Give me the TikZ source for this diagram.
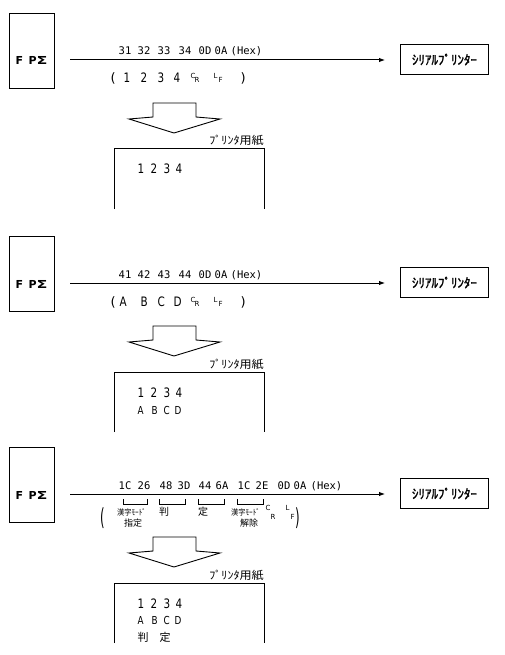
\documentclass[tikz,border=0pt]{standalone}
\usepackage{fontspec}
\usepackage{graphicx}
\usetikzlibrary{arrows.meta}
\setmainfont{DejaVu Sans}
\newfontfamily\jp{Noto Sans CJK JP}
\newfontfamily\jpb{Noto Sans CJK JP}[FakeBold=1.5]
\newfontfamily\mono{DejaVu Sans Mono}
\newcommand\tk[2]{\rlap{\hspace*{#1pt}#2}}
\newcommand\fs[1]{\fontsize{#1}{#1}\selectfont}
\newcommand\nd[1]{\scalebox{0.8}[1]{#1}}
\newcommand\panelbase{%
  \node[box, minimum width=45pt, minimum height=75pt] (fp) at (9,13) {};
  \node[txt] (fpt) at (15,65) {\bfseries\fs{11}\tk{0}{F}\tk{13}{P}\tk{21}{\scalebox{1.45}[1]{Σ}}};
  \node[box, minimum width=88pt, minimum height=30pt] (pr) at (400,44) {\jpb\fs{13}ｼﾘｱﾙﾌﾟﾘﾝﾀｰ};
  \coordinate (s) at (70,60);
  \draw[sig] (s) -- (s -| pr.west);
  \draw[blockarrow] (153,103) -- (196,103) -- (196,117) -- (220,119) -- (174,133) -- (129,119) -- (153,117) -- cycle;
  \node[txt, anchor=base east] (lab) at (264,145) {\jp\fs{11}\scalebox{1.1}[1]{ﾌﾟﾘﾝﾀ用紙}};
  \draw[paper] (114,209) -- (114,149) -- (264,149) -- (264,209);
  \node[txt] (n1234) at (137,174) {\fs{13}\tk{0}{\nd1}\tk{13}{\nd2}\tk{26}{\nd3}\tk{38}{\nd4}};
}
\begin{document}
\begin{tikzpicture}[x=1pt,y=-1pt,
  box/.style={draw, line width=1pt, inner sep=0pt, anchor=north west},
  txt/.style={inner sep=0pt, anchor=base west},
  sig/.style={line width=1pt, -{Latex[length=6pt,width=4.5pt]}, shorten >=15pt},
  blockarrow/.style={draw, line width=0.9pt, line join=miter},
  paper/.style={line width=1pt},
  brk/.style={line width=0.9pt},
  hexfont/.style={font=\mono\fs{10.5}},
  ]
\useasboundingbox (0,0) rectangle (504,655);

% ---------- panel 1
\begin{scope}[name prefix=a-]
\panelbase
\node[txt, hexfont] (hex) at (118,55) {\tk{0}{31}\tk{19}{32}\tk{39}{33}\tk{60}{34}\tk{80}{0D}\tk{96}{0A}\tk{112}{(Hex)}};
\node[txt] (dat) at (110,83) {\fs{13}\tk{0}{(}\tk{13}{\nd1}\tk{30}{\nd2}\tk{47}{\nd3}\tk{63}{\nd4}%
  \tk{80}{\raisebox{4pt}{\fs{7}C}}\tk{84}{\fs{7}R}\tk{103}{\raisebox{4pt}{\fs{7}L}}\tk{108}{\fs{7}F}\tk{130}{)}};
\end{scope}

% ---------- panel 2
\begin{scope}[yshift=-223pt, name prefix=b-]
\panelbase
\node[txt, hexfont] (hex) at (118,55) {\tk{0}{41}\tk{19}{42}\tk{39}{43}\tk{60}{44}\tk{80}{0D}\tk{96}{0A}\tk{112}{(Hex)}};
\node[txt] (dat) at (110,83) {\fs{13}\tk{0}{(}\tk{9}{\nd A}\tk{30}{\nd B}\tk{47}{\nd C}\tk{63}{\nd D}%
  \tk{80}{\raisebox{4pt}{\fs{7}C}}\tk{84}{\fs{7}R}\tk{103}{\raisebox{4pt}{\fs{7}L}}\tk{108}{\fs{7}F}\tk{130}{)}};
\node[txt] (abcd) at (137,191) {\fs{11}\tk{0}{\nd A}\tk{14}{\nd B}\tk{26}{\nd C}\tk{37}{\nd D}};
\end{scope}

% ---------- panel 3
\begin{scope}[yshift=-434pt, name prefix=c-]
\panelbase
\node[txt, hexfont] (hex) at (118,55) {\tk{0}{1C}\tk{19}{26}\tk{41}{48}\tk{59}{3D}\tk{80}{44}\tk{97}{6A}\tk{119}{1C}\tk{137}{2E}\tk{159}{0D}\tk{175}{0A}\tk{192}{(Hex)}};
\draw[brk] (123,65) |- (147,70) -- (147,65);
\draw[brk] (159,65) |- (185,70) -- (185,65);
\draw[brk] (198,65) |- (224,70) -- (224,65);
\draw[brk] (237,65) |- (263,70) -- (263,65);
\node[txt] (lp) at (100,91) {\scalebox{0.9}[1.8]{\fs{13}(}};
\node[txt] (rp) at (295,91) {\scalebox{0.9}[1.8]{\fs{13})}};
\node[txt] (k1) at (117,81) {\jp\fs{8}\scalebox{0.9}[1]{漢字ﾓｰﾄﾞ}};
\node[txt] (k1b) at (124,92) {\jp\fs{9}指定};
\node[txt] (k2) at (159,81) {\jp\fs{10}判};
\node[txt] (k3) at (198,81) {\jp\fs{10}定};
\node[txt] (k4) at (231,81) {\jp\fs{8}\scalebox{0.9}[1]{漢字ﾓｰﾄﾞ}};
\node[txt] (k4b) at (240,92) {\jp\fs{9}解除};
\node[txt] (crlf) at (265,76) {\fs{7}\tk{0}{C}\tk{5}{\raisebox{-9pt}{R}}\tk{20}{L}\tk{25}{\raisebox{-9pt}{F}}};
\node[txt] (abcd) at (137,190) {\fs{11}\tk{0}{\nd A}\tk{14}{\nd B}\tk{26}{\nd C}\tk{37}{\nd D}};
\node[txt] (hantei) at (137,207) {\jp\fs{11}\tk{0}{判}\tk{22}{定}};
\end{scope}
\end{tikzpicture}
\end{document}
